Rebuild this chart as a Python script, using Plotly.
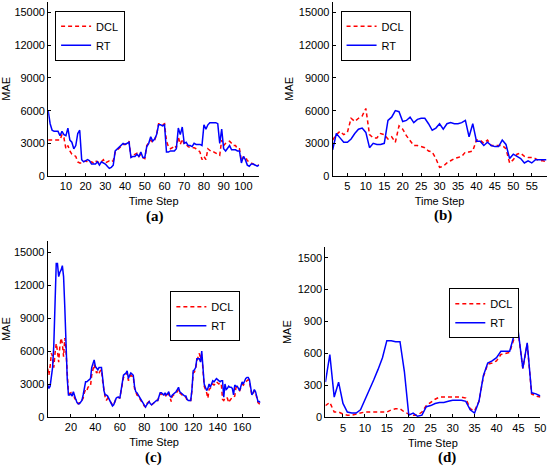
import plotly.graph_objects as go

# ---------------- data ----------------
a_rt = [6000, 4800, 4200, 4100, 4100, 4100, 3700, 4100, 3800, 3700,
        4400, 3300, 3100, 2500, 2800, 3900, 4200, 1500, 1300, 1400,
        1500, 1400, 1100, 1100, 1100, 1300, 1000, 1300, 1200, 1100,
        900, 700, 800, 1000, 2300, 2500, 2700, 2800, 3000, 2900,
        3000, 3100, 1700, 1800, 1800, 2000, 1800, 2200, 1700, 1700,
        2700, 3000, 3600, 3200, 3400, 3800, 4700, 4700, 4600, 4700,
        2200, 2200, 2300, 2300, 2300, 2500, 4400, 3800, 4500, 3000,
        3100, 2800, 2800, 2700, 3000, 2900, 2900, 2900, 2800, 4700,
        4300, 4700, 4900, 4900, 4900, 4900, 4800, 3000, 4300, 2500,
        2300, 2500, 2800, 2400, 2400, 2400, 2300, 2300, 1200, 1800,
        1500, 1000, 900, 1100, 1100, 1000, 900, 1000]
a_dcl = [3300, 3300, 3300, 3300, 3300, 3300, 3300, 3800, 3500, 2500,
         2800, 2300, 2000, 1900, 1800, 1300, 1200, 1200, 1300, 1400,
         1300, 1200, 1300, 1200, 1400, 1300, 1200, 1300, 1500, 1200,
         1300, 1400, 1300, 1400, 2200, 2400, 2600, 2800, 2900, 2900,
         3000, 3200, 1700, 1900, 2000, 2100, 1800, 2000, 1700, 1600,
         2800, 3000, 3300, 3100, 3300, 3800, 4800, 4800, 4700, 4800,
         3200, 2700, 2500, 2600, 2800, 2600, 3600, 2900, 3400, 2900,
         2900, 2700, 2600, 2600, 2600, 2500, 2400, 2200, 1500, 1800,
         1500, 2500, 2300, 2200, 2200, 2100, 2000, 1900, 3300, 2800,
         3000, 3100, 3200, 3000, 2800, 2800, 2500, 2500, 1400, 1700,
         1800, 1400, 1300, 1200, 1100, 1000, 1000, 1000]

b_rt = [2400, 3900, 3500, 3100, 3100, 3400, 3900, 4300, 4400, 4000,
        2600, 3000, 2900, 2900, 3000, 5100, 5400, 6000, 5900, 5000,
        5100, 5400, 4900, 5200, 5300, 5300, 4800, 4200, 4400, 4800,
        4300, 4800, 4900, 4800, 4800, 4900, 5100, 3600, 4800, 3200,
        3200, 2800, 3100, 2800, 2700, 2700, 3300, 2900, 1600, 2000,
        1800, 1600, 1200, 1400, 1200, 1500, 1500, 1500, 1500]
b_dcl = [3300, 3800, 4100, 3800, 4000, 5300, 5000, 5300, 5500, 6200,
         3800, 3500, 3500, 3900, 3800, 3400, 3600, 3100, 4600, 4300,
         3700, 3300, 2800, 2800, 2700, 2600, 2300, 2200, 1600, 800,
         900, 1200, 1400, 1600, 1700, 1800, 2200, 2200, 2300, 3300,
         3300, 3000, 3300, 2800, 2800, 2800, 2800, 2500, 1200, 1500,
         2000, 2100, 1800, 1700, 1700, 1600, 1400, 1400, 1300]

c_rt = [2900, 2600, 2800, 3500, 4500, 6500, 10000, 14000, 14000, 12800,
        13200, 13400, 13800, 12800, 10000, 6000, 3500, 2000, 2000, 2100,
        1900, 2300, 1800, 1600, 1300, 1200, 1200, 1400, 1500, 2000,
        2600, 3200, 3200, 3300, 3400, 3500, 4500, 4800, 5200, 4600,
        4400, 4300, 4500, 4500, 4500, 3500, 2400, 2000, 2000, 1900,
        1700, 1500, 1200, 1000, 1100, 1500, 1700, 1800, 1800, 1700,
        2500, 3300, 3800, 3900, 4000, 4200, 3500, 3800, 4000, 3900,
        3800, 2800, 2300, 2200, 2000, 1800, 1600, 1500, 1300, 1100,
        900, 1100, 1300, 1400, 1200, 1100, 1200, 1300, 1400, 1500,
        1500, 2000, 2200, 2200, 2100, 2000, 2200, 2000, 2100, 2300,
        1900, 1800, 2000, 2100, 2200, 2300, 2500, 2700, 2300, 2200,
        2100, 2000, 1900, 1900, 1600, 1500, 1500, 1500, 2500, 4200,
        4300, 4500, 5300, 5300, 5300, 5000, 6000, 4500, 3000, 2700,
        2400, 2600, 3000, 2700, 3000, 3300, 3200, 3400, 3500, 3400,
        3300, 3200, 3300, 3300, 1800, 3000, 2500, 2600, 2800, 2700,
        2700, 2600, 2000, 2900, 2800, 2800, 2600, 2400, 2800, 3200,
        3000, 3300, 3500, 3600, 3600, 3400, 2500, 2000, 2200, 2500,
        2300, 1800, 1400, 1400, 1300]
c_dcl = [4400, 3800, 4600, 5800, 5500, 4500, 5800, 6700, 6000, 5000,
         6500, 7200, 6700, 5500, 7200, 6000, 4000, 2200, 2100, 2200,
         1900, 2200, 1700, 1500, 1300, 1200, 1300, 1300, 1500, 1700,
         2200, 2500, 2400, 2700, 2800, 2800, 3800, 4300, 4800, 4300,
         4000, 4200, 4000, 4200, 4300, 3200, 2200, 1800, 1500, 1700,
         1600, 1400, 1200, 1100, 1100, 1500, 1700, 1700, 1800, 1700,
         2400, 3100, 3600, 3700, 3800, 4000, 3300, 3500, 3800, 3700,
         3700, 2600, 2200, 2000, 1900, 1700, 1500, 1400, 1200, 1000,
         900, 1200, 1300, 1400, 1200, 1100, 1200, 1300, 1400, 1500,
         1500, 1900, 2100, 2100, 2000, 1900, 2100, 1800, 2000, 2100,
         1800, 1400, 1900, 2000, 2100, 2200, 2300, 2500, 2200, 2100,
         2000, 1900, 1800, 1800, 1500, 1500, 1500, 1500, 2400, 4000,
         4100, 4400, 5100, 5500, 5800, 5300, 5700, 4300, 2800, 2500,
         2200, 1700, 2500, 2600, 2800, 3000, 2900, 3000, 3200, 3100,
         3000, 3100, 3000, 1600, 1500, 1700, 1800, 1700, 1300, 1500,
         1700, 1800, 1800, 1900, 2700, 2600, 2500, 2400, 2700, 3000,
         2900, 3100, 3200, 3300, 3400, 3200, 2400, 2000, 2100, 2400,
         2200, 1700, 1300, 1200, 1200]

d_rt = [330, 590, 190, 330, 130, 50, 40, 40, 70, 160,
        260, 350, 450, 560, 720, 720, 710, 710, 430, 20,
        40, 10, 20, 100, 110, 130, 140, 140, 150, 160,
        160, 160, 150, 70, 40, 150, 390, 510, 530, 560,
        620, 620, 620, 770, 790, 460, 700, 230, 220, 200]
d_dcl = [110, 140, 50, 50, 30, 20, 20, 30, 40, 50,
         50, 50, 50, 50, 50, 70, 80, 80, 50, 30,
         20, 20, 50, 110, 140, 170, 190, 190, 190, 190,
         190, 190, 180, 80, 60, 150, 380, 500, 510, 530,
         590, 600, 610, 740, 780, 460, 690, 220, 200, 190]

y_ticks_big = [0, 3000, 6000, 9000, 12000, 15000]
y_ticks_small = [0, 300, 600, 900, 1200, 1500]
x_ticks_a = list(range(10, 101, 10))
x_ticks_b = list(range(5, 56, 5))
x_ticks_c = list(range(20, 161, 20))
x_ticks_d = list(range(5, 51, 5))
captions = ["<b>(a)</b>", "<b>(b)</b>", "<b>(c)</b>", "<b>(d)</b>"]

# ---------------- layout geometry (pixels) ----------------
W, H = 553, 470
FONT = "Liberation Sans, Arial, sans-serif"

def xd(x0, x1):
    return [x0 / W, x1 / W]

def yd(top, bottom):
    return [(H - bottom) / H, (H - top) / H]

panels = [
    dict(rt=a_rt, dcl=a_dcl, xdom=xd(48.7, 262.0), ydom=yd(1.7, 178.3),
         yr=[0, 16000], yt=y_ticks_big, xt=x_ticks_a,
         leg=dict(x=55.7, y=11.0, xa="left")),
    dict(rt=b_rt, dcl=b_dcl, xdom=xd(336.3, 552.5), ydom=yd(1.7, 178.3),
         yr=[0, 16000], yt=y_ticks_big, xt=x_ticks_b,
         leg=dict(x=344.3, y=11.0, xa="left")),
    dict(rt=c_rt, dcl=c_dcl, xdom=xd(48.2, 263.3), ydom=yd(244.6, 422.3),
         yr=[0, 16000], yt=y_ticks_big, xt=x_ticks_c,
         leg=dict(x=243.0, y=295.0, xa="right")),
    dict(rt=d_rt, dcl=d_dcl, xdom=xd(329.0, 546.3), ydom=yd(250.2, 422.7),
         yr=[0, 1600], yt=y_ticks_small, xt=x_ticks_d,
         leg=dict(x=525.0, y=292.0, xa="right")),
]
cap_pos = [(157, 219), (448, 218), (155, 463), (452, 463)]

fig = go.Figure()
layout = dict(width=W, height=H, margin=dict(l=0, r=0, t=0, b=0),
              paper_bgcolor="white", plot_bgcolor="white",
              font=dict(family=FONT, size=11, color="black"),
              annotations=[])

for i, p in enumerate(panels):
    n = i + 1
    sfx = "" if n == 1 else str(n)
    xs = list(range(1, len(p["rt"]) + 1))
    leg = "legend" if n == 1 else f"legend{n}"
    fig.add_trace(go.Scatter(x=xs, y=p["dcl"], mode="lines", name="DCL",
                             line=dict(color="#ff0000", width=1.5, dash="4px,3px"),
                             xaxis=f"x{sfx}", yaxis=f"y{sfx}", legend=leg))
    fig.add_trace(go.Scatter(x=xs, y=p["rt"], mode="lines", name="RT",
                             line=dict(color="#0000ff", width=1.5),
                             xaxis=f"x{sfx}", yaxis=f"y{sfx}", legend=leg))
    axcommon = dict(showline=True, linecolor="black", linewidth=1,
                    ticks="inside", ticklen=3, tickcolor="black",
                    showgrid=False, zeroline=False, mirror=False,
                    tickfont=dict(family=FONT, size=11, color="black"))
    layout[f"xaxis{sfx}"] = dict(domain=p["xdom"], range=[1, len(xs)],
                                 anchor=f"y{sfx}", tickvals=p["xt"],
                                 title=dict(text="Time Step", standoff=6,
                                            font=dict(size=11)),
                                 **axcommon)
    layout[f"yaxis{sfx}"] = dict(domain=p["ydom"], range=p["yr"],
                                 anchor=f"x{sfx}", tickvals=p["yt"],
                                 tickformat="d",
                                 title=dict(text="MAE", standoff=3,
                                            font=dict(size=11)),
                                 **axcommon)
    lg = p["leg"]
    layout[leg] = dict(x=lg["x"] / W, y=(H - lg["y"]) / H, xanchor=lg["xa"],
                       yanchor="top",
                       bgcolor="white", bordercolor="black", borderwidth=1,
                       font=dict(family=FONT, size=11, color="black"),
                       tracegroupgap=0)
    cx, cy = cap_pos[i]
    layout["annotations"].append(dict(text=captions[i], x=cx / W, y=(H - cy) / H,
                                      xref="paper", yref="paper", showarrow=False,
                                      xanchor="center", yanchor="middle",
                                      font=dict(family="Liberation Serif, Times New Roman, serif",
                                                size=15, color="black")))

fig.update_layout(**layout)
fig.write_html("out.html", config={"displayModeBar": False},
               post_script="document.body.style.margin='0';document.body.style.padding='0';")
